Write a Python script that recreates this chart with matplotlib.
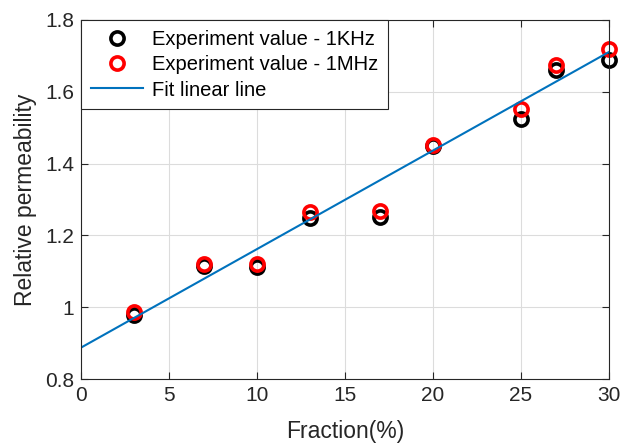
import matplotlib.pyplot as plt
import numpy as np

plt.rcParams['font.family'] = ['Liberation Sans', 'DejaVu Sans']

# measured data
fraction   = [3, 7, 10, 13, 17, 20, 25, 27, 30]
perm_1khz  = [0.980, 1.115, 1.112, 1.248, 1.252, 1.450, 1.523, 1.660, 1.688]
perm_1mhz  = [0.986, 1.120, 1.122, 1.266, 1.268, 1.453, 1.552, 1.676, 1.720]

# linear fit line
fit_x      = [0, 30]
fit_y      = [0.888, 1.711]

fig = plt.figure(figsize=(6.24, 4.44), dpi=100)
ax = fig.add_axes([0.13, 0.146, 0.846, 0.809])

ax.plot(fraction, perm_1khz, 'o', mfc='none', mec='black', ms=9.5, mew=2.6,
        label='Experiment value - 1KHz', clip_on=False)
ax.plot(fraction, perm_1mhz, 'o', mfc='none', mec='red', ms=9.5, mew=2.6,
        label='Experiment value - 1MHz', clip_on=False)
ax.plot(fit_x, fit_y, '-', color='#0072BD', lw=1.5, label='Fit linear line')

ax.set_xlim(0, 30)
ax.set_ylim(0.8, 1.8)
ax.set_xticks(np.arange(0, 31, 5))
ax.set_yticks([0.8, 1.0, 1.2, 1.4, 1.6, 1.8])
ax.set_yticklabels(['0.8', '1', '1.2', '1.4', '1.6', '1.8'])
ax.grid(True, color='#dcdcdc', lw=0.8)
ax.set_axisbelow(True)
ax.tick_params(direction='in', top=True, right=True, labelsize=15,
               colors='#262626', length=5, pad=5)
for s in ax.spines.values():
    s.set_color('#262626')
    s.set_linewidth(0.8)

ax.set_xlabel('Fraction(%)', fontsize=16.5, color='#262626', labelpad=11)
ax.set_ylabel('Relative permeability', fontsize=16.5, color='#262626', labelpad=6)

leg = ax.legend(loc='upper left', fontsize=14.5, fancybox=False,
                framealpha=1, edgecolor='#262626', borderaxespad=0,
                handlelength=2.6, labelspacing=0.32, borderpad=0.48,
                handletextpad=0.45)
leg.get_frame().set_linewidth(0.8)

fig.savefig('out.png', dpi=100)
